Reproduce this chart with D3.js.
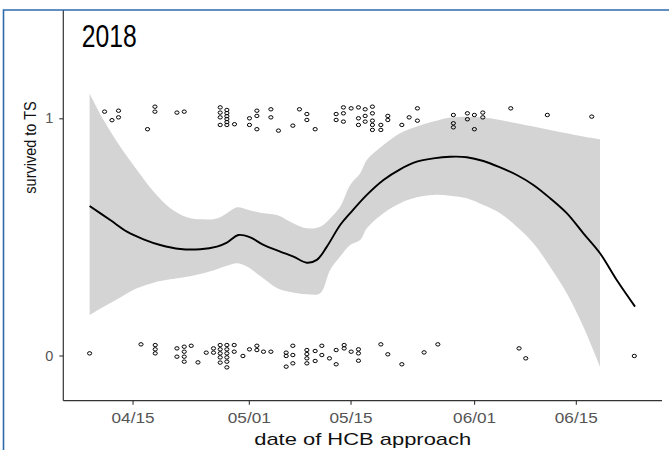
<!DOCTYPE html>
<html>
<head>
<meta charset="utf-8">
<script src="https://cdn.jsdelivr.net/npm/d3@7"></script>
<style>
  body { margin: 0; background: #fff; }
  svg { display: block; font-family: Arial, "Liberation Sans", sans-serif; }
</style>
</head>
<body>
<svg id="chart" width="669" height="450"></svg>
<script>
// days counted from 2018-04-01
const survivedDays = [10.15, 11.17, 12.07, 12.07, 16.06, 17.08, 17.08, 20.11, 21.11,
  26.06, 26.06, 26.06, 26.06, 26.98, 26.98, 26.98, 26.98, 26.98, 26.98, 28.03, 30.09, 30.09,
  31.11, 31.11, 31.11, 33.04, 33.04, 34.08, 36.06, 36.97, 37.99, 37.99, 39.13, 42.02, 42.02,
  43.02, 43.02, 43.02, 44.08, 45.09, 45.09, 45.09, 46.01, 46.01, 46.01, 47.01, 47.01, 47.01,
  47.01, 47.01, 48.17, 48.17, 49.13, 49.13, 51.06, 52.06, 53.20, 53.20, 58.15, 58.15, 58.15,
  60.08, 60.08, 61.04, 61.04, 62.20, 62.20, 66.05, 71.08, 77.19]
const survivedVals = [1.028, 0.992, 1.032, 1.004, 0.954, 1.049, 1.028, 1.024, 1.028,
  1.046, 1.024, 1.004, 0.972, 1.035, 1.022, 1.009, 0.997, 0.984, 0.972, 0.975, 1.000, 0.972,
  1.032, 1.010, 0.954, 1.038, 1.004, 0.948, 0.969, 1.038, 1.018, 0.993, 0.954, 1.018, 0.993,
  1.046, 1.021, 0.986, 1.042, 1.046, 1.000, 0.972, 1.038, 1.010, 0.986, 1.049, 1.021, 0.990,
  0.972, 0.951, 0.972, 0.951, 1.010, 0.993, 0.972, 1.004, 1.042, 0.990, 1.014, 0.979, 0.962,
  1.021, 0.996, 1.014, 0.954, 1.024, 1.004, 1.042, 1.014, 1.007]

const diedDays = [8.09, 15.16, 17.12, 17.12, 17.12, 20.11, 20.11, 21.11, 21.11, 21.11, 21.11,
  22.07, 23.00, 24.14, 25.14, 25.14, 26.06, 26.06, 26.06, 26.06, 26.06,
  26.98, 26.98, 26.98, 26.98, 26.98, 26.98, 27.99, 27.99, 29.19, 30.09, 31.11, 31.11,
  32.02, 33.04, 35.14, 35.14, 35.14, 36.06, 36.06, 36.06, 37.99, 37.99, 37.99, 37.99,
  39.13, 39.13, 40.05, 40.05, 41.10, 42.02, 42.02, 43.12, 43.12, 44.08, 45.09, 45.09, 45.09,
  48.17, 49.13, 51.06, 54.12, 56.01, 67.19, 68.11, 83.05]
const diedVals = [0.009, 0.047, 0.044, 0.026, 0.009, 0.030, -0.005, 0.037, 0.016, -0.005, -0.026,
  0.041, -0.029, 0.012, 0.030, 0.012, 0.044, 0.026, 0.009, -0.008, -0.030,
  0.044, 0.026, 0.009, -0.008, -0.026, -0.050, 0.044, 0.016, -0.002, 0.026, 0.041, 0.023,
  0.016, 0.016, 0.012, -0.002, -0.047, 0.041, 0.002, -0.033, 0.023, 0.006, -0.012, -0.033,
  0.019, -0.023, 0.041, 0.002, -0.012, 0.023, -0.037, 0.044, 0.030, 0.016, 0.026, 0.009, -0.022,
  0.047, 0.005, -0.037, 0.013, 0.047, 0.030, -0.012, -0.002]

// smoothed fit
const smoothDays = [8.09, 10.93, 13.23, 15.51, 17.81, 20.56, 23.31, 25.61, 26.98, 28.58, 30.19,
  32.02, 34.32, 36.15, 37.99, 39.36, 40.74, 42.57, 43.95, 46.24, 48.53, 50.82, 53.12, 55.40,
  57.70, 60.00, 62.28, 64.58, 66.88, 69.16, 71.46, 73.75, 76.04, 78.33, 80.63, 83.15]
const smoothFit = [0.630, 0.571, 0.522, 0.490, 0.466, 0.449, 0.448, 0.459, 0.476, 0.508, 0.498,
  0.466, 0.438, 0.417, 0.391, 0.403, 0.459, 0.550, 0.600, 0.677, 0.740, 0.785, 0.817, 0.831,
  0.838, 0.836, 0.820, 0.793, 0.761, 0.719, 0.663, 0.600, 0.515, 0.431, 0.318, 0.206]

// confidence band
const ribbonDays = [8.09, 10.01, 12.31, 14.61, 16.89, 19.19, 21.48, 23.31, 25.61, 26.98, 28.36,
  29.74, 31.57, 33.86, 35.69, 37.99, 39.82, 41.19, 42.57, 43.95, 45.33, 46.24, 48.53, 50.82,
  53.12, 55.40, 57.70, 60.00, 62.28, 64.58, 66.88, 69.16, 71.46, 73.75, 76.04, 78.33]
const ribbonHi = [1.105, 0.993, 0.880, 0.782, 0.691, 0.621, 0.583, 0.574, 0.578, 0.600, 0.625,
  0.616, 0.602, 0.592, 0.564, 0.536, 0.543, 0.578, 0.627, 0.719, 0.768, 0.824, 0.887, 0.937,
  0.965, 0.986, 1.003, 1.007, 1.003, 0.993, 0.979, 0.965, 0.951, 0.937, 0.923, 0.911]
const ribbonLo = [0.171, 0.206, 0.245, 0.283, 0.307, 0.321, 0.332, 0.344, 0.364, 0.378, 0.389,
  0.375, 0.335, 0.285, 0.268, 0.258, 0.262, 0.360, 0.417, 0.466, 0.487, 0.536, 0.600, 0.642,
  0.667, 0.677, 0.674, 0.663, 0.634, 0.600, 0.543, 0.473, 0.374, 0.262, 0.121, -0.047]

const xTickDates = ["2018-04-15", "2018-05-01", "2018-05-15", "2018-06-01", "2018-06-15"]
const yTicks = [0, 1]

const base = new Date(2018, 3, 1)
const toDate = d => new Date(base.getTime() + d * 864e5)
const parseDay = d3.timeParse("%Y-%m-%d")

const svg = d3.select("#chart")

const x = d3.scaleTime()
    .domain([toDate(4.47), toDate(86.86)])
    .range([63.3, 662])

const y = d3.scaleLinear()
    .domain([0, 1])
    .range([355.5, 118.3])

const axisY = 400.7

// band
const area = d3.area()
    .x((d, i) => x(toDate(ribbonDays[i])))
    .y0((d, i) => y(ribbonLo[i]))
    .y1((d, i) => y(ribbonHi[i]))
    .curve(d3.curveCatmullRom)

svg.append("path")
    .datum(ribbonDays)
    .attr("d", area)
    .attr("fill", "#d4d4d4")

// points
const pts = survivedDays.map((d, i) => [d, survivedVals[i]])
    .concat(diedDays.map((d, i) => [d, diedVals[i]]))

svg.append("g")
    .selectAll("ellipse")
    .data(pts)
    .join("ellipse")
    .attr("cx", d => x(toDate(d[0])))
    .attr("cy", d => y(d[1]))
    .attr("rx", 2.1)
    .attr("ry", 1.7)
    .attr("fill", "none")
    .attr("stroke", "#000")
    .attr("stroke-width", 1)

// fit line
const line = d3.line()
    .x((d, i) => x(toDate(smoothDays[i])))
    .y((d, i) => y(smoothFit[i]))
    .curve(d3.curveCatmullRom)

svg.append("path")
    .datum(smoothDays)
    .attr("d", line)
    .attr("fill", "none")
    .attr("stroke", "#000")
    .attr("stroke-width", 1.9)

// axes
const xAxis = d3.axisBottom(x)
    .tickValues(xTickDates.map(parseDay))
    .tickFormat(d3.timeFormat("%m/%d"))
    .tickSize(4)
    .tickSizeOuter(0)
    .tickPadding(7.6)

const gx = svg.append("g")
    .attr("transform", `translate(0,${axisY})`)
    .call(xAxis)
gx.select(".domain").remove()
gx.selectAll("line").attr("stroke", "#333").attr("stroke-width", 1.1)
gx.selectAll("text")
    .attr("fill", "#555")
    .attr("font-size", 14.5)
    .attr("font-family", "Arial, 'Liberation Sans', sans-serif")
    .attr("textLength", 43)
    .attr("lengthAdjust", "spacingAndGlyphs")

const yAxis = d3.axisLeft(y)
    .tickValues(yTicks)
    .tickFormat(d3.format("d"))
    .tickSize(4)
    .tickSizeOuter(0)
    .tickPadding(6)

const gy = svg.append("g")
    .attr("transform", "translate(63.3,0)")
    .call(yAxis)
gy.select(".domain").remove()
gy.selectAll("line").attr("stroke", "#333").attr("stroke-width", 1.1)
gy.selectAll("text")
    .attr("fill", "#555")
    .attr("font-size", 14.5)
    .attr("font-family", "Arial, 'Liberation Sans', sans-serif")

svg.append("line")
    .attr("x1", 63.3).attr("x2", 662)
    .attr("y1", axisY).attr("y2", axisY)
    .attr("stroke", "#333").attr("stroke-width", 1.2)

svg.append("line")
    .attr("x1", 63.3).attr("x2", 63.3)
    .attr("y1", 10).attr("y2", axisY)
    .attr("stroke", "#333").attr("stroke-width", 1.2)

// titles
svg.append("text")
    .attr("x", 362.7)
    .attr("y", 445)
    .attr("text-anchor", "middle")
    .attr("font-size", 17)
    .attr("fill", "#111")
    .attr("textLength", 217)
    .attr("lengthAdjust", "spacingAndGlyphs")
    .text("date of HCB approach")

svg.append("text")
    .attr("transform", "translate(35.5,147.5) scale(1.19,1) rotate(-90)")
    .attr("text-anchor", "middle")
    .attr("font-size", 14.5)
    .attr("fill", "#111")
    .text("survived to TS")

svg.append("text")
    .attr("x", 81.7)
    .attr("y", 46.7)
    .attr("font-size", 32)
    .attr("fill", "#000")
    .attr("textLength", 55)
    .attr("lengthAdjust", "spacingAndGlyphs")
    .text("2018")

// blue frame
svg.append("path")
    .attr("d", "M3.5,450 V10 H669")
    .attr("fill", "none")
    .attr("stroke", "#2f6aad")
    .attr("stroke-width", 1.6)
</script>
</body>
</html>
